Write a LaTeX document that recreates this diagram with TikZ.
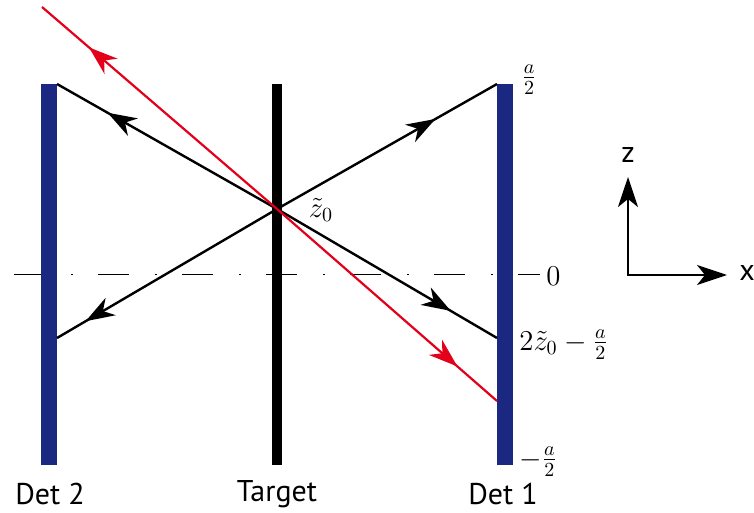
\documentclass[tikz,border=0pt]{standalone}
\usepackage{fontspec}
\setsansfont{PT Sans}
\usetikzlibrary{arrows.meta,decorations.markings}
\definecolor{detblue}{RGB}{27,40,130}
\definecolor{rayred}{RGB}{226,0,26}
\begin{document}
\begin{tikzpicture}[x=0.5pt,y=-0.5pt,
  ray/.style={line width=1.2pt, draw=black},
  redray/.style={line width=1.1pt, draw=rayred},
  midarrow/.style={postaction=decorate, decoration={markings,
     mark=at position #1 with {\arrow{Stealth[length=14.5pt,width=10pt,inset=4.5pt]}}}},
  lbl/.style={font=\sffamily\fontsize{15}{17}\selectfont, inner sep=0pt},
  mlbl/.style={font=\fontsize{14.5}{17}\selectfont, inner sep=0pt},
  axisline/.style={line width=0.5pt, dash pattern=on 15.5pt off 13pt on 1pt off 12.5pt}]
\useasboundingbox (0,0) rectangle (754,513);
% coordinates
\coordinate (T) at (277,209);
\coordinate (D2t) at (57,84);
\coordinate (D2b) at (57,338);
\coordinate (D1t) at (497,84);
\coordinate (D1b) at (497,338);
\coordinate (R1) at (42,7);
\coordinate (R2) at (497,401);
\coordinate (AL) at (14,274);
\coordinate (AR) at (540,274);
% dash-dot axis
\draw[axisline] (AL) -- (AR);
% bars
\fill[detblue] (41,84) rectangle (57,465);
\fill[detblue] (497,84) rectangle (513,465);
\fill[black] (272,84) rectangle (282,465);
% rays
\draw[ray, midarrow=0.77] (T) -- (D2t);
\draw[ray, midarrow=0.72] (T) -- (D1t);
\draw[ray, midarrow=0.87] (T) -- (D2b);
\draw[ray, midarrow=0.79] (T) -- (D1b);
\draw[redray, midarrow=0.80] (T) -- (R1);
\draw[redray, midarrow=0.82] (T) -- (R2);
% labels
\node[mlbl] (z0) at (321,210) {$\tilde z_0$};
\node[mlbl, anchor=west] (ta) at (521,80) {$\frac{a}{2}$};
\node[mlbl, anchor=west] (zero) at (546,276) {$0$};
\node[mlbl, anchor=west] (mid) at (519,345) {$2\tilde z_0-\frac{a}{2}$};
\node[mlbl, anchor=west] (ba) at (519,462) {$-\frac{a}{2}$};
\node[lbl] (d2) at (50,494) {Det 2};
\node[lbl] (tg) at (277,494) {Target};
\node[lbl] (d1) at (503,494) {Det 1};
% axes
\coordinate (O) at (628,275);
\coordinate (Zt) at (628,177);
\coordinate (Xt) at (727,275);
\draw[line width=1.2pt, line join=miter, {Stealth[length=15pt,width=10pt,inset=4pt]}-{Stealth[length=15pt,width=10pt,inset=4pt]}] (Zt) -- (O) -- (Xt);
\node[lbl] (zl) at (628,155) {z};
\node[lbl] (xl) at (747,273) {x};
\end{tikzpicture}
\end{document}
